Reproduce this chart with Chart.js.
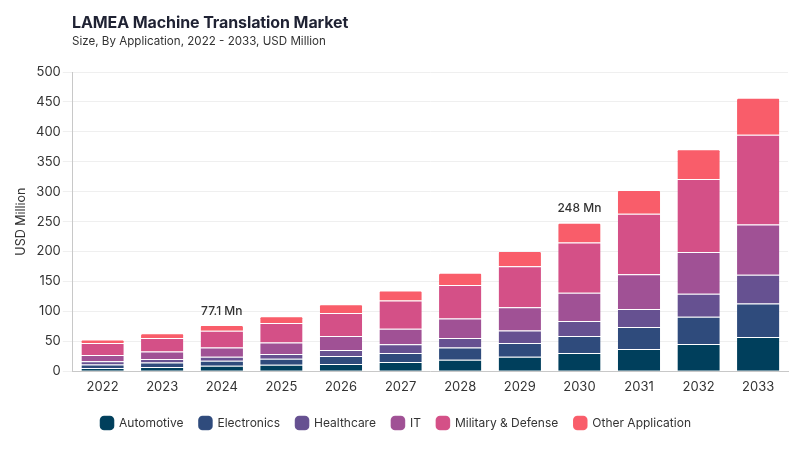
<!DOCTYPE html>
<html>
<head>
<meta charset="utf-8">
<script src="https://cdn.jsdelivr.net/npm/chart.js@4/dist/chart.umd.min.js"></script>
<style>
  body { margin: 0; background: #fff; font-family: Inter, "Noto Sans", sans-serif; }
  #wrap { position: relative; width: 800px; height: 450px; }
  #title { position: absolute; left: 72px; top: 12px; font-size: 16px; font-weight: 700; color: #1f2233; letter-spacing: -0.1px; }
  #subtitle { position: absolute; left: 72px; top: 34px; font-size: 11.6px; color: #333; }
  canvas { position: absolute; left: 0; top: 0; }
</style>
</head>
<body>
<div id="wrap">
  <canvas id="chart" width="800" height="450"></canvas>
  <div id="title">LAMEA Machine Translation Market</div>
  <div id="subtitle">Size, By Application, 2022 - 2033, USD Million</div>
</div>
<script>
// --- Data ---
const years = ["2022", "2023", "2024", "2025", "2026", "2027", "2028", "2029", "2030", "2031", "2032", "2033"];
const automotive = [5.5, 7.2, 9.0, 10.6, 12.2, 15.5, 19.0, 24.0, 30.5, 37.0, 45.5, 57.0];
const electronics = [5.5, 7.3, 8.5, 10.0, 13.4, 15.0, 20.5, 23.0, 28.5, 37.0, 45.5, 56.0];
const healthcare = [5.7, 6.0, 6.8, 8.3, 10.0, 14.5, 16.0, 21.0, 25.0, 30.0, 38.5, 48.0];
const it = [10.3, 12.3, 15.3, 18.9, 23.3, 26.0, 32.5, 39.0, 47.0, 58.0, 69.5, 84.0];
const military = [20.0, 22.7, 28.0, 32.8, 38.4, 47.0, 56.0, 68.5, 84.0, 101.0, 122.0, 150.0];
const other = [6.0, 7.8, 9.5, 11.1, 14.4, 17.0, 20.5, 25.5, 33.0, 40.0, 50.0, 62.0];
const yTicks = [0, 50, 100, 150, 200, 250, 300, 350, 400, 450, 500];
const callouts = [{ year: "2024", text: "77.1 Mn" }, { year: "2030", text: "248 Mn" }];

const series = [
  { label: "Automotive", data: automotive, color: "#003f5c" },
  { label: "Electronics", data: electronics, color: "#2f4b7c" },
  { label: "Healthcare", data: healthcare, color: "#665191" },
  { label: "IT", data: it, color: "#a05195" },
  { label: "Military & Defense", data: military, color: "#d45087" },
  { label: "Other Application", data: other, color: "#f95d6a" }
];

// --- Callout labels above the stacks ---
const calloutPlugin = {
  id: "callouts",
  afterDatasetsDraw(chart) {
    const { ctx, scales } = chart;
    ctx.save();
    ctx.font = "500 12px Inter, sans-serif";
    ctx.fillStyle = "#333";
    ctx.textAlign = "center";
    ctx.textBaseline = "bottom";
    callouts.forEach(c => {
      const i = years.indexOf(c.year);
      const total = series.reduce((s, d) => s + d.data[i], 0);
      ctx.fillText(c.text, scales.x.getPixelForValue(i), scales.y.getPixelForValue(total) - 8);
    });
    ctx.restore();
  }
};

new Chart(document.getElementById("chart"), {
  type: "bar",
  data: {
    labels: years,
    datasets: series.map((s, k) => ({
      label: s.label,
      data: s.data,
      backgroundColor: s.color,
      borderColor: "rgba(255,255,255,0.35)",
      borderWidth: { top: 1 },
      borderSkipped: false,
      borderRadius: k === series.length - 1 ? { topLeft: 2, topRight: 2 } : 0,
      barPercentage: 0.71,
      categoryPercentage: 1.0
    }))
  },
  options: {
    responsive: false,
    animation: false,
    layout: { padding: { top: 72, left: 4, right: 12, bottom: 11 } },
    plugins: {
      legend: {
        position: "bottom",
        title: { display: true, text: " ", font: { size: 1 }, padding: { top: 0, bottom: 5 } },
        labels: {
          usePointStyle: true,
          pointStyle: "rectRounded",
          boxWidth: 12,
          boxHeight: 12,
          padding: 16,
          color: "#333",
          font: { family: "Inter, sans-serif", size: 12 }
        }
      },
      tooltip: { enabled: false }
    },
    scales: {
      x: {
        stacked: true,
        grid: { display: false },
        border: { color: "#c8c8c8" },
        ticks: { color: "#333", font: { family: "Inter, sans-serif", size: 13 }, padding: 0 }
      },
      y: {
        stacked: true,
        min: 0,
        max: 500,
        afterBuildTicks: axis => { axis.ticks = yTicks.map(v => ({ value: v })); },
        grid: { color: "#efefef", drawTicks: true, tickLength: 10 },
        border: { color: "#c8c8c8" },
        ticks: { color: "#333", font: { family: "Inter, sans-serif", size: 13 }, padding: 2 },
        title: { display: true, text: "USD Million", color: "#333", padding: { top: 10, bottom: 5 }, font: { family: "Inter, sans-serif", size: 12.5 } }
      }
    }
  },
  plugins: [calloutPlugin]
});
</script>
</body>
</html>
